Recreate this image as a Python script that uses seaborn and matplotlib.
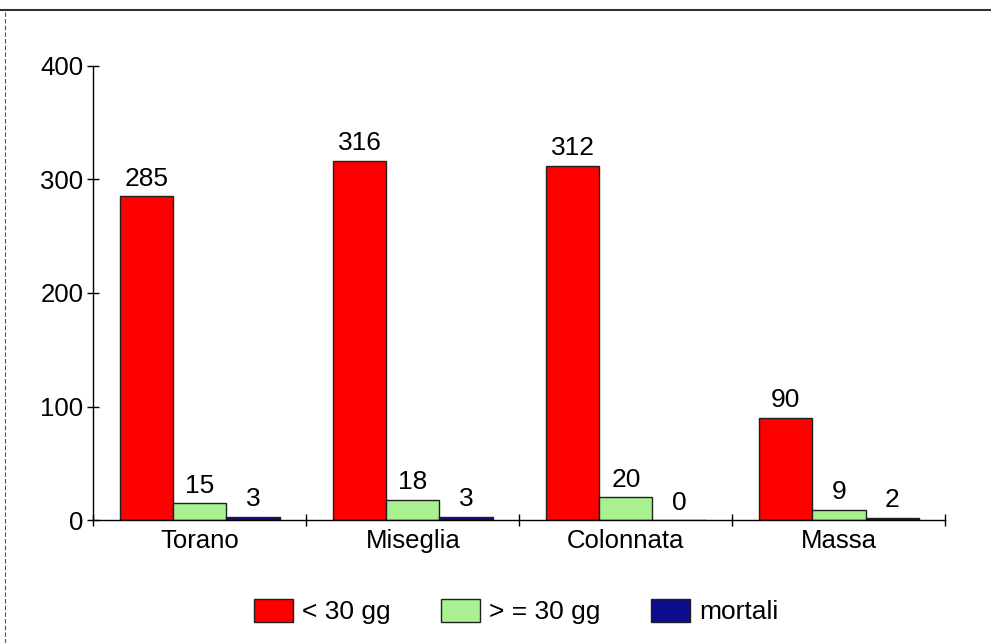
import matplotlib
matplotlib.use("Agg")
import matplotlib.pyplot as plt
from matplotlib.lines import Line2D
import pandas as pd
import seaborn as sns

# Infortuni per località e durata
localita = ["Torano", "Miseglia", "Colonnata", "Massa"]
meno_30 = [285, 316, 312, 90]
oltre_30 = [15, 18, 20, 9]
mortali = [3, 3, 0, 2]
serie = ["< 30 gg", "> = 30 gg", "mortali"]
colori = ["#ff0000", "#a8f090", "#0c0c8c"]
y_ticks = [0, 100, 200, 300, 400]

df = pd.DataFrame({
    "localita": localita * 3,
    "valore": meno_30 + oltre_30 + mortali,
    "serie": [serie[0]] * 4 + [serie[1]] * 4 + [serie[2]] * 4,
})

sns.set_style("white")
plt.rcParams["font.family"] = ["Liberation Sans", "DejaVu Sans"]

fig = plt.figure(figsize=(9.91, 6.43), dpi=100)
ax = fig.add_axes([0.094, 0.191, 0.860, 0.707])

sns.barplot(data=df, x="localita", y="valore", hue="serie", order=localita,
            hue_order=serie, palette=colori, width=0.75, edgecolor="#202020",
            linewidth=1.0, saturation=1, ax=ax, legend=False)

for cont in ax.containers:
    ax.bar_label(cont, fmt="%d", padding=4, fontsize=19, color="black")

ax.set_xlim(-0.5, 3.5)
ax.set_ylim(0, 400)
ax.set_yticks(y_ticks)
ax.set_xlabel("")
ax.set_ylabel("")
ax.tick_params(axis="y", direction="inout", length=8, width=1, labelsize=18.5,
               pad=3, left=True, colors="black", labelcolor="black")
ax.tick_params(axis="x", which="major", length=0, labelsize=18.5, pad=6,
               labelcolor="black")
ax.set_xticks([-0.5, 0.5, 1.5, 2.5, 3.5], minor=True)
ax.tick_params(axis="x", which="minor", direction="inout", length=8, width=1,
               bottom=True, color="black")
for s in ["top", "right"]:
    ax.spines[s].set_visible(False)
for s in ["left", "bottom"]:
    ax.spines[s].set_color("black")
    ax.spines[s].set_linewidth(1)

handles = [plt.Rectangle((0, 0), 1, 1, facecolor=c, edgecolor="#202020", linewidth=1)
           for c in colori]
leg = fig.legend(handles, serie, loc="center", bbox_to_anchor=(0.521, 0.049), ncol=3,
                 frameon=False, fontsize=19, handlelength=1.48, handleheight=0.95,
                 handletextpad=0.35, columnspacing=1.9)
for t in leg.get_texts():
    t.set_color("black")

# cornice del pannello
fig.add_artist(Line2D([0.0, 1.0], [0.984, 0.984], color="#333333", linewidth=1.5,
                      transform=fig.transFigure))
fig.add_artist(Line2D([0.005, 0.005], [0.0, 0.984], color="#555555", linewidth=0.8,
                      linestyle=(0, (4, 2)), transform=fig.transFigure))

fig.savefig("out.png", dpi=100)
